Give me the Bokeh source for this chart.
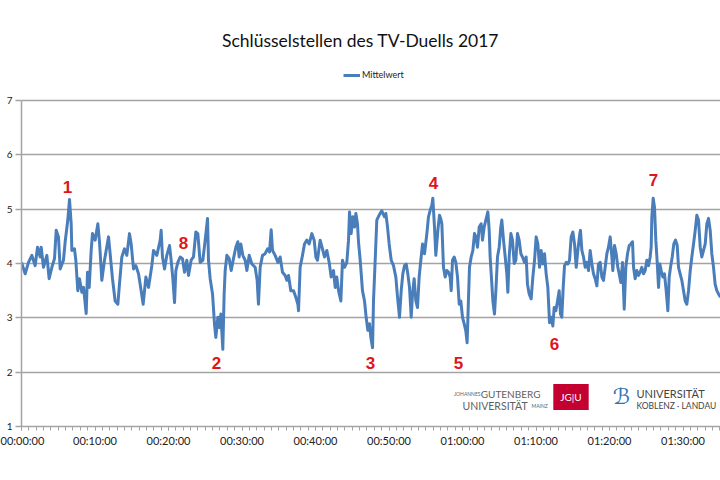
from bokeh.plotting import figure
from bokeh.models import Range1d, FixedTicker, Label, Legend, LegendItem, ColumnDataSource
from bokeh.core.properties import value
from bokeh.embed import file_html
from bokeh.resources import INLINE

# ---- data: time in minutes since start, mean rating (Mittelwert) ----
minutes = [
    0.00, 0.50, 0.95, 1.41, 1.86, 2.18, 2.54, 2.68, 2.99, 3.45, 3.76, 4.13, 4.49, 4.72, 5.03, 5.26,
    5.71, 5.94, 6.30, 6.53, 6.76, 6.85, 7.21, 7.39, 7.66, 7.89, 8.21, 8.44, 8.80, 8.98, 9.21, 9.48,
    9.66, 10.02, 10.39, 10.61, 10.93, 11.29, 11.56, 11.84, 12.06, 12.38, 12.74, 13.11, 13.33, 13.65,
    14.01, 14.33, 14.69, 14.92, 15.24, 15.56, 15.92, 16.28, 16.55, 16.92, 17.28, 17.73, 17.96, 18.41,
    18.87, 19.00, 19.18, 19.46, 19.77, 20.14, 20.36, 20.59, 20.82, 21.00, 21.27, 21.59, 21.90, 22.18,
    22.49, 22.72, 23.08, 23.40, 23.72, 23.99, 24.31, 24.67, 24.99, 25.31, 25.44, 25.67, 25.99, 26.26,
    26.44, 26.71, 26.94, 27.12, 27.39, 27.57, 27.71, 27.94, 28.25, 28.53, 28.84, 29.16, 29.43, 29.61,
    29.84, 30.11, 30.43, 30.66, 30.98, 31.34, 31.79, 32.06, 32.24, 32.47, 32.79, 33.15, 33.47, 33.74,
    33.97, 34.15, 34.51, 34.88, 35.19, 35.51, 35.87, 36.10, 36.33, 36.64, 37.01, 37.32, 37.60, 37.69,
    37.91, 38.23, 38.50, 38.82, 39.14, 39.50, 39.82, 40.05, 40.27, 40.63, 40.95, 41.22, 41.54, 41.86,
    42.13, 42.45, 42.68, 42.90, 43.13, 43.45, 43.67, 43.95, 44.26, 44.49, 44.63, 44.85, 45.08, 45.31,
    45.49, 45.71, 45.85, 46.08, 46.39, 46.67, 46.89, 47.12, 47.35, 47.53, 47.76, 47.89, 48.12, 48.34,
    48.66, 49.02, 49.39, 49.57, 49.80, 50.02, 50.30, 50.61, 50.93, 51.16, 51.43, 51.66, 51.88, 52.11,
    52.34, 52.56, 52.79, 53.02, 53.20, 53.42, 53.65, 53.88, 54.10, 54.33, 54.56, 54.83, 55.15, 55.37,
    55.60, 55.83, 55.96, 56.19, 56.37, 56.64, 56.87, 57.05, 57.19, 57.41, 57.64, 57.87, 58.10, 58.32,
    58.46, 58.64, 58.87, 59.09, 59.32, 59.55, 59.77, 60.00, 60.23, 60.45, 60.63, 60.82, 60.95, 61.18,
    61.41, 61.63, 61.81, 62.04, 62.27, 62.54, 62.72, 62.95, 63.17, 63.45, 63.63, 63.76, 63.99, 64.13,
    64.35, 64.54, 64.76, 64.99, 65.21, 65.35, 65.58, 65.81, 66.03, 66.17, 66.35, 66.58, 66.80, 67.03,
    67.26, 67.48, 67.71, 67.94, 68.16, 68.44, 68.66, 68.84, 69.07, 69.34, 69.57, 69.80, 70.02, 70.25,
    70.48, 70.70, 70.93, 71.16, 71.38, 71.61, 71.84, 72.06, 72.29, 72.47, 72.70, 72.93, 73.15, 73.33,
    73.51, 73.70, 73.88, 74.11, 74.33, 74.56, 74.78, 75.01, 75.24, 75.47, 75.69, 75.96, 76.05, 76.24,
    76.46, 76.69, 76.92, 77.14, 77.37, 77.60, 77.82, 78.05, 78.28, 78.50, 78.73, 78.96, 79.18, 79.41,
    79.64, 79.86, 80.09, 80.32, 80.45, 80.68, 80.91, 81.13, 81.32, 81.54, 81.77, 82.00, 82.22, 82.45,
    82.68, 82.90, 83.13, 83.27, 83.49, 83.72, 83.95, 84.17, 84.40, 84.63, 84.85, 85.08, 85.31, 85.53,
    85.67, 85.76, 85.94, 86.12, 86.30, 86.49, 86.67, 86.85, 87.03, 87.26, 87.48, 87.71, 87.94, 88.12,
    88.30, 88.53, 88.75, 88.98, 89.21, 89.39, 89.61, 89.84, 90.07, 90.30, 90.52, 90.75, 90.98, 91.20,
    91.43, 91.66, 91.88, 92.11, 92.34, 92.56, 92.79, 93.02, 93.24, 93.47, 93.70, 93.92, 94.15, 94.37,
    94.60, 94.83, 95.10,
]
mittelwert = [
    4.02, 3.81, 4.02, 4.15, 3.96, 4.30, 4.12, 4.30, 3.93, 4.15, 3.72, 3.93, 4.09, 4.61, 4.49, 3.90,
    4.06, 4.40, 4.80, 5.18, 4.73, 4.24, 4.27, 4.06, 3.50, 3.72, 3.47, 3.56, 3.08, 3.84, 3.56, 4.24,
    4.55, 4.43, 4.73, 4.40, 3.69, 4.06, 4.27, 4.49, 4.18, 3.72, 3.31, 3.25, 3.62, 4.12,
    4.27, 4.15, 4.55, 4.36, 3.90, 3.96, 3.81, 3.50, 3.25, 3.75, 3.56, 3.96, 4.24, 4.15,
    4.43, 4.61, 4.12, 3.90, 4.15, 4.33, 4.06, 3.72, 3.28, 3.87, 4.02, 4.12, 4.09, 3.84,
    4.06, 3.78, 4.06, 4.12, 4.58, 4.55, 4.02, 4.06, 4.43, 4.83, 4.06, 3.72, 3.44, 2.88,
    2.64, 3.01, 2.82, 3.07, 2.42, 3.44, 3.87, 4.15, 4.09, 3.87, 4.09, 4.30, 4.40, 4.12,
    4.36, 4.15, 4.06, 3.87, 4.15, 3.99, 3.93, 3.69, 3.25, 3.93, 4.15, 4.18, 4.27, 4.21,
    4.62, 4.24, 4.15, 4.02, 4.12, 3.84, 3.78, 3.69, 3.78, 3.50, 3.50, 3.38, 3.25, 3.13,
    3.93, 4.15, 4.36, 4.43, 4.36, 4.55, 4.43, 4.12, 4.06, 4.43, 4.27, 4.12, 4.24, 4.02,
    3.75, 3.87, 3.56, 3.75, 3.50, 3.31, 4.06, 3.93, 4.02, 4.43, 4.95, 4.55, 4.86, 4.67,
    4.92, 4.73, 4.40, 4.06, 3.50, 3.31, 3.01, 2.77, 2.89, 2.64, 2.45, 3.31, 4.06, 4.80,
    4.89, 4.97, 4.86, 4.92, 4.67, 4.36, 4.06, 3.96, 3.75, 3.38, 3.01, 3.50, 3.81, 3.96,
    3.99, 3.81, 3.56, 3.01, 3.44, 3.72, 3.31, 3.19, 3.75, 4.06, 4.36, 4.18, 4.55, 4.86,
    4.98, 5.07, 5.20, 4.67, 4.15, 4.60, 4.89, 4.82, 4.73, 3.93, 3.75, 3.87, 3.84, 3.75,
    3.50, 4.06, 4.12, 4.02, 3.75, 3.25, 3.31, 3.01, 2.89, 2.76, 2.54, 3.38, 3.93, 4.12,
    4.24, 4.55, 4.49, 4.30, 4.67, 4.73, 4.43, 4.67, 4.80, 4.95, 4.61, 4.12, 3.62, 3.31,
    3.07, 3.50, 4.12, 4.30, 4.67, 4.80, 4.43, 4.12, 3.81, 3.47, 4.12, 4.55, 4.43, 4.00,
    4.06, 4.55, 4.43, 4.18, 4.12, 4.02, 4.12, 3.62, 3.44, 3.35, 3.75, 4.06, 4.49, 4.36,
    3.93, 4.24, 3.99, 4.18, 3.81, 3.56, 2.91, 3.01, 2.85, 3.19, 3.13, 3.31, 3.50, 3.07,
    3.01, 3.56, 3.96, 4.02, 3.99, 4.06, 4.49, 4.58, 4.36, 3.93, 4.24, 4.55, 4.61, 4.24,
    4.12, 3.93, 4.02, 3.87, 4.24, 3.99, 3.81, 3.72, 3.59, 3.99, 4.02, 3.75, 3.69, 3.93,
    4.18, 4.30, 4.49, 4.12, 3.87, 4.33, 4.18, 3.93, 3.81, 3.65, 4.02, 3.16, 3.93, 4.18,
    4.33, 4.36, 4.40, 3.93, 3.72, 3.87, 3.78, 3.84, 3.93, 3.81, 3.87, 4.06, 3.96, 4.12,
    4.30, 4.86, 5.20, 5.04, 4.43, 4.02, 3.56, 3.99, 3.87, 3.75, 3.81, 3.50, 3.13, 3.75,
    3.93, 4.12, 4.36, 4.43, 4.33, 3.93, 3.81, 3.69, 3.50, 3.31, 3.25, 3.50, 3.87, 4.12,
    4.36, 4.61, 4.89, 4.80, 4.30, 4.12, 4.24, 4.36, 4.73, 4.83, 4.61, 4.18, 3.93, 3.62,
    3.50, 3.44, 3.38,
]

# key moments (Schlüsselstellen): label, time (min), value position
key_labels = ["1", "2", "3", "4", "5", "6", "7", "8"]
key_minutes = [6.26, 26.53, 47.48, 56.05, 59.46, 72.52, 85.98, 22.04]
key_values = [5.40, 2.16, 2.16, 5.49, 2.16, 2.51, 5.53, 4.38]

x_tick_values = [0, 10, 20, 30, 40, 50, 60, 70, 80, 90]
x_tick_labels = ["00:00:00", "00:10:00", "00:20:00", "00:30:00", "00:40:00",
                 "00:50:00", "01:00:00", "01:10:00", "01:20:00", "01:30:00"]
y_tick_values = [1, 2, 3, 4, 5, 6, 7]
y_min, y_max = 1, 7

title_text = "Schlüsselstellen des TV-Duells 2017"
series_name = "Mittelwert"

LINE_BLUE = "#4a7ebb"
GRID = "#a3a3a3"
FONT = "Lato"

# frame: x from 21 to 720 px, y from 0 to 426 px; value 7 sits 100 px below the top
FRAME_H = 426
TOP_GAP = 100
y_top = y_max + TOP_GAP * (y_max - y_min) / (FRAME_H - TOP_GAP)

p = figure(width=720, height=480, x_range=Range1d(0, 95.1), y_range=Range1d(y_min, y_top),
           output_backend="svg", toolbar_location=None,
           min_border_left=21, min_border_right=0, min_border_top=0, min_border_bottom=54,
           outline_line_color=None, background_fill_color="white", border_fill_color="white")

src = ColumnDataSource(dict(t=minutes, v=mittelwert))
line = p.line("t", "v", source=src, line_color=LINE_BLUE, line_width=3, line_join="round")

ksrc = ColumnDataSource(dict(t=key_minutes, v=key_values, s=key_labels))
p.text("t", "v", text="s", source=ksrc, text_color="#e0141b", text_font=value("Liberation Sans"),
       text_font_style="bold", text_font_size="17px", text_align="center", text_baseline="middle")

# axes
p.xgrid.visible = False
p.ygrid.grid_line_color = GRID
p.ygrid.grid_line_width = 1.5
p.yaxis.ticker = FixedTicker(ticks=y_tick_values)
p.yaxis.bounds = (y_min, y_max)
p.yaxis.axis_line_color = GRID
p.yaxis.axis_line_width = 1.5
p.yaxis.major_tick_line_color = GRID
p.yaxis.major_tick_line_width = 1.5
p.yaxis.major_tick_out = 6
p.yaxis.major_tick_in = 0
p.yaxis.minor_tick_out = 0
p.yaxis.major_label_text_font = FONT
p.yaxis.major_label_text_font_size = "10px"
p.yaxis.major_label_text_color = "#222222"
p.yaxis.major_label_standoff = 3

p.xaxis.ticker = FixedTicker(ticks=x_tick_values, minor_ticks=list(range(0, 96)))
p.xaxis.major_label_overrides = {v: s for v, s in zip(x_tick_values, x_tick_labels)}
p.xaxis.axis_line_color = GRID
p.xaxis.axis_line_width = 1.5
p.xaxis.major_tick_line_color = GRID
p.xaxis.minor_tick_line_color = GRID
p.xaxis.major_tick_line_width = 1
p.xaxis.minor_tick_line_width = 1
p.xaxis.major_tick_out = 4
p.xaxis.major_tick_in = 0
p.xaxis.minor_tick_out = 4
p.xaxis.minor_tick_in = 0
p.xaxis.major_label_text_font = FONT
p.xaxis.major_label_text_font_size = "11px"
p.xaxis.major_label_text_color = "#222222"
p.xaxis.major_label_standoff = 3

# title (screen units relative to the frame: frame left = 21, frame bottom = 426)
p.add_layout(Label(x=339, y=386, x_units="screen", y_units="screen", text=title_text,
                   text_align="center", text_baseline="middle", text_font=FONT,
                   text_font_size="17.5px", text_color="#111111"))

# legend above the plotting area
legend = Legend(items=[LegendItem(label=series_name, renderers=[line])],
                location=(322, 346), orientation="horizontal",
                padding=0, margin=0, spacing=0, label_standoff=2,
                glyph_width=17, glyph_height=10, label_height=10,
                label_text_font=FONT, label_text_font_size="9px", label_text_color="#222222",
                border_line_alpha=0, background_fill_alpha=0)
p.add_layout(legend, "center")

# logos (as text)
logo_grey = "#5f5f5f"
p.add_layout(Label(x=459, y=33, x_units="screen", y_units="screen", text="JOHANNES",
                   text_align="right", text_baseline="middle", text_font=FONT,
                   text_font_size="5px", text_color=logo_grey))
p.add_layout(Label(x=519, y=33, x_units="screen", y_units="screen", text="GUTENBERG",
                   text_align="right", text_baseline="middle", text_font=FONT,
                   text_font_size="10px", text_color=logo_grey))
p.add_layout(Label(x=441, y=21, x_units="screen", y_units="screen", text="UNIVERSITÄT",
                   text_align="left", text_baseline="middle", text_font=FONT,
                   text_font_size="10.5px", text_color=logo_grey))
p.add_layout(Label(x=510, y=21, x_units="screen", y_units="screen", text="MAINZ",
                   text_align="left", text_baseline="middle", text_font=FONT,
                   text_font_size="5px", text_color=logo_grey))
p.add_layout(Label(x=549.5, y=29.5, x_units="screen", y_units="screen", text="JG|U",
                   text_align="center", text_baseline="middle", text_font=FONT,
                   text_font_size="10px", text_color="white",
                   background_fill_color="#c3002f", padding=7))
p.add_layout(Label(x=600, y=30, x_units="screen", y_units="screen", text="ℬ",
                   text_align="center", text_baseline="middle", text_font="DejaVu Sans",
                   text_font_size="22px", text_font_style="italic", text_color="#2f6fb3"))
p.add_layout(Label(x=615, y=33, x_units="screen", y_units="screen", text="UNIVERSITÄT",
                   text_align="left", text_baseline="middle", text_font=FONT,
                   text_font_size="11px", text_color="#444444"))
p.add_layout(Label(x=615, y=21, x_units="screen", y_units="screen", text="KOBLENZ · LANDAU",
                   text_align="left", text_baseline="middle", text_font=FONT,
                   text_font_size="8.5px", text_color="#444444"))

open("out.html", "w").write(file_html(p, INLINE))
